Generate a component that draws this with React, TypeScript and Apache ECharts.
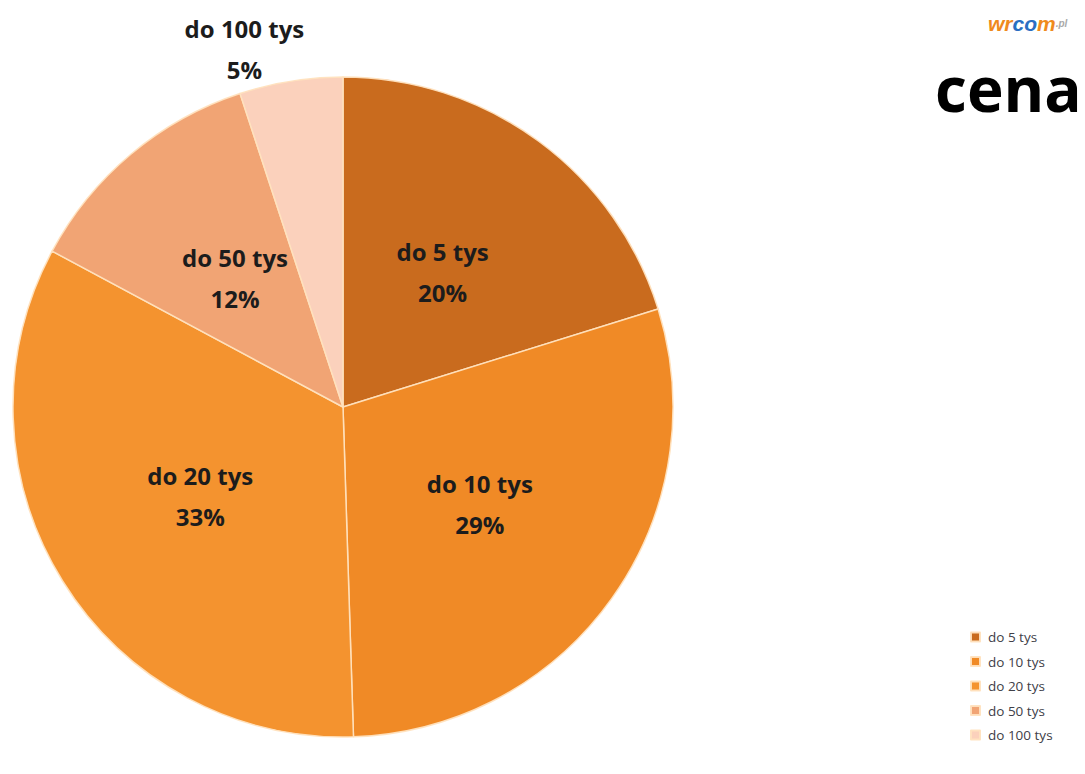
import React, { useEffect, useRef } from "react";
import * as echarts from "echarts";

const categories = ["do 5 tys", "do 10 tys", "do 20 tys", "do 50 tys", "do 100 tys"];
const values = [20, 29, 33, 12, 5];
const colors = ["#c96b1e", "#f08a26", "#f4932f", "#f1a474", "#fbd1bc"];
const titleText = "cena";

export default function App() {
  const ref = useRef<HTMLDivElement>(null);
  useEffect(() => {
    if (!ref.current) return;
    const chart = echarts.init(ref.current, undefined, { renderer: "svg" });
    chart.setOption({
      animation: false,
      backgroundColor: "#ffffff",
      title: [
        {
          text: titleText,
          left: 930,
          top: 52,
          textStyle: { fontSize: 62, fontWeight: "bold", color: "#000", fontFamily: "Open Sans" },
        },
        {
          text: "{a|wr}{b|co}{a|m}{c|.pl}",
          left: 983,
          top: 8,
          textStyle: {
            rich: {
              a: { fontSize: 21, fontWeight: "bold", fontStyle: "italic", color: "#ef8a1d", fontFamily: "Liberation Sans" },
              b: { fontSize: 21, fontWeight: "bold", fontStyle: "italic", color: "#2a6ec2", fontFamily: "Liberation Sans" },
              c: { fontSize: 10, fontStyle: "italic", color: "#aaa", fontFamily: "Liberation Sans" },
            },
          },
        },
      ],
      legend: {
        orient: "vertical",
        left: 965,
        top: 625,
        itemWidth: 9,
        itemHeight: 9,
        itemGap: 10.5,
        icon: "rect",
        data: categories,
        textStyle: { fontSize: 13.5, color: "#404048", fontFamily: "Open Sans", padding: [0, 0, 0, 3] },
      },
      series: [
        {
          type: "pie",
          center: [343, 407],
          radius: [0, 330],
          startAngle: 90,
          clockwise: true,
          data: categories.map((name, i) => ({
            name,
            value: values[i],
            itemStyle: { color: colors[i] },
          })),
          itemStyle: { borderColor: "rgba(255,225,190,0.95)", borderWidth: 1.5 },
          label: {
            show: true,
            position: "inside",
            formatter: (p: any) => `${p.name}\n${p.value}%`,
            fontSize: 24,
            lineHeight: 41,
            fontWeight: "bold",
            color: "#1c1c1c",
            fontFamily: "Open Sans",
          },
          labelLine: { show: false },
          labelLayout: (params: any) => (params.dataIndex === 4 ? { dx: -72, dy: -192 } : {}),
          emphasis: { disabled: true },
        },
      ],
    });
    return () => chart.dispose();
  }, []);
  return <div ref={ref} style={{ position: "fixed", left: 0, top: 0, width: 1085, height: 774 }} />;
}
